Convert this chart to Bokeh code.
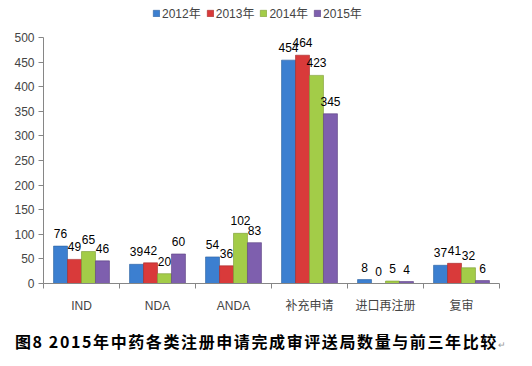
from bokeh.plotting import figure
from bokeh.layouts import column
from bokeh.models import ColumnDataSource, FixedTicker, Legend, LegendItem, Range1d, Div
from bokeh.embed import file_html
from bokeh.resources import INLINE
from bokeh.core.properties import value

categories = ["IND", "NDA", "ANDA", "补充申请", "进口再注册", "复审"]
years = ["2012年", "2013年", "2014年", "2015年"]
v2012 = [76, 39, 54, 454, 8, 37]
v2013 = [49, 42, 36, 464, 0, 41]
v2014 = [65, 20, 102, 423, 5, 32]
v2015 = [46, 60, 83, 345, 4, 6]
series = [v2012, v2013, v2014, v2015]
colors = ["#3C7FD0", "#D93A3A", "#A3CC48", "#7E5FAE"]
lines = ["#2A5F9E", "#A52828", "#7A9A30", "#5A4080"]
title_text = "图8  2015年中药各类注册申请完成审评送局数量与前三年比较"

FONT = "Liberation Sans, Noto Sans CJK SC"
W = 532

# ---- legend strip ----
pl = figure(width=W, height=30, output_backend="svg", toolbar_location=None,
            x_axis_location=None, y_axis_location=None,
            x_range=Range1d(0, 1), y_range=Range1d(0, 1), min_border=0)
pl.outline_line_color = None
pl.xgrid.grid_line_color = None
pl.ygrid.grid_line_color = None
leg_items = []
for i, yr in enumerate(years):
    r = pl.vbar(x=[-50], top=[-40], bottom=[-50], width=0.1,
                fill_color=colors[i], line_color=lines[i], line_width=0.6)
    leg_items.append(LegendItem(label=yr, renderers=[r]))
legend = Legend(items=leg_items, orientation="horizontal", location=(109, 9),
                label_text_font=FONT, label_text_font_size="12px",
                glyph_width=8, glyph_height=8, label_standoff=2, spacing=5,
                padding=0, margin=0, border_line_color=None,
                background_fill_alpha=0)
pl.add_layout(legend, "center")

# ---- main chart ----
p = figure(width=W, height=290, output_backend="svg", toolbar_location=None,
           x_range=Range1d(0, len(categories)), y_range=Range1d(0, 500),
           min_border_left=43, min_border_right=33, min_border_top=7, min_border_bottom=37)
p.outline_line_color = None
p.xgrid.grid_line_color = None
p.ygrid.grid_line_color = None

bw = 0.184
offsets = [-1.5 * bw, -0.5 * bw, 0.5 * bw, 1.5 * bw]
for i, vals in enumerate(series):
    xs = [k + 0.5 + offsets[i] for k in range(len(categories))]
    src = ColumnDataSource(dict(x=xs, top=vals, lab=[str(v) for v in vals]))
    p.vbar(x="x", top="top", width=bw, source=src, fill_color=colors[i],
           line_color=lines[i], line_width=0.6)
    p.text(x="x", y="top", text="lab", source=src, text_align="center",
           text_baseline="bottom", y_offset=-8, text_font_size="12px",
           text_font=value(FONT), text_color="#000000")

ax = p.xaxis[0]
ax.ticker = FixedTicker(ticks=[k + 0.5 for k in range(len(categories))],
                        minor_ticks=list(range(len(categories) + 1)))
ax.major_label_overrides = {k + 0.5: c for k, c in enumerate(categories)}
ax.major_tick_line_color = None
ax.minor_tick_out = 5
ax.minor_tick_in = 0
ax.minor_tick_line_color = "#868686"
ax.axis_line_color = "#868686"
ax.major_label_text_font = FONT
ax.major_label_text_font_size = "12px"
ax.major_label_standoff = 9

ay = p.yaxis[0]
ay.ticker = FixedTicker(ticks=list(range(0, 501, 50)))
ay.minor_tick_line_color = None
ay.major_tick_out = 5
ay.major_tick_in = 0
ay.major_tick_line_color = "#868686"
ay.axis_line_color = "#868686"
ay.major_label_text_font = FONT
ay.major_label_text_font_size = "12px"
ay.major_label_standoff = 4

# ---- caption ----
cap = Div(text=title_text + '<span style="font-size:9px;color:#999;font-weight:normal;">↵</span>',
          width=W, height=46,
          styles={"font-family": "'Noto Sans CJK SC'", "font-weight": "bold",
                  "font-size": "16px", "letter-spacing": "1.6px", "color": "#000",
                  "padding-left": "15px", "padding-top": "10px", "line-height": "22px",
                  "white-space": "nowrap", "margin": "0"})

layout = column(pl, p, cap, spacing=0)
open("out.html", "w").write(file_html(layout, INLINE))
